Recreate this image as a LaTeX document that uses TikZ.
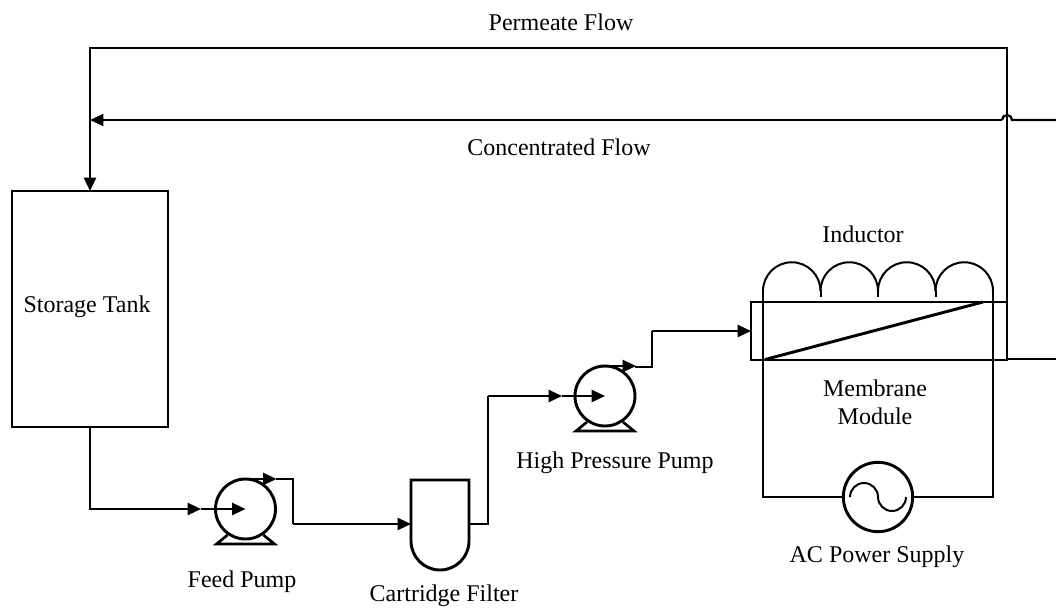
\documentclass[tikz,border=0pt]{standalone}
\usepackage{fontspec}
\setmainfont{Liberation Serif}
\usetikzlibrary{arrows.meta}
\tikzset{
    pipe/.style={line width=1.7pt},
    wire/.style={line width=1.5pt},
    tag/.style={font=\fontsize{18pt}{20pt}\selectfont, inner sep=0pt},
    pumpbody/.style={circle, draw, line width=2.2pt, minimum size=45pt, inner sep=0pt, outer sep=0pt},
    unit/.style={rectangle, draw, line width=2.2pt, inner sep=0pt, outer sep=0pt}
}
\begin{document}
\begin{tikzpicture}[>={Triangle[length=10pt,width=9pt]}, x=0.75pt, y=-0.75pt]
    \useasboundingbox (0,0) rectangle (1056,607);

    % Units
    \node[unit, minimum width=117pt, minimum height=177pt] (tank) at (90,309) {};
    \node[unit, minimum width=192pt, minimum height=43.5pt] (module) at (879,331) {};
    \node[pumpbody] (feedpump) at (245.5,509) {};
    \node[pumpbody] (hppump) at (605,396) {};
    \node[circle, draw, line width=2.2pt, minimum size=52pt, inner sep=0pt, outer sep=0pt] (ac) at (878,497) {};

    % Labels
    \node[tag] (permeatelabel) at (561,22.5) {Permeate Flow};
    \node[tag] (concentratedlabel) at (559,147.5) {Concentrated Flow};
    \node[tag] (inductorlabel) at (863,234) {Inductor};
    \node[tag] (tanklabel) at (87,306.5) {Storage Tank};
    \node[tag] (membranelabel) at (875,388) {Membrane};
    \node[tag] (modulelabel) at (875,416) {Module};
    \node[tag] (hplabel) at (615,463) {High Pressure Pump};
    \node[tag] (aclabel) at (877,557) {AC Power Supply};
    \node[tag] (feedlabel) at (242,582) {Feed Pump};
    \node[tag] (filterlabel) at (444,595.5) {Cartridge Filter};

    % Named points on the lines
    \coordinate (feedin) at (201,509);
    \coordinate (feedout) at (276,479);
    \coordinate (filterin) at (411,524);
    \coordinate (filterout) at (469,524);
    \coordinate (hpin) at (562,396);
    \coordinate (hpout) at (635,367);
    \coordinate (modulein) at (module.west);
    \coordinate (hopright) at (1012,120);
    \coordinate (hopleft) at (1002,120);
    \coordinate (concentratedin) at (1056,120);
    \coordinate (drain) at (1056,359);
    \coordinate (permeatetop) at (1007,48);
    \coordinate (returntop) at (90,48);
    \coordinate (returnside) at (90,120);

    % Pump details
    \foreach \p in {feedpump,hppump} {
        \draw[line width=2pt] ([shift={(-18,26)}]\p.center) -- ([shift={(-29,35)}]\p.center)
            -- ([shift={(29,35)}]\p.center) -- ([shift={(18,26)}]\p.center);
        \draw[pipe, ->] (\p.north) -- ++(31,0);
    }
    \draw[pipe, ->] (feedin) -- (feedpump.center);
    \draw[pipe, ->] (hpin) -- (hppump.center);

    % Cartridge filter
    \draw[line width=2.2pt] (filterin |- 0,480) coordinate (filtertl) -- (411,541)
        arc[start angle=180, end angle=0, radius=29] -- (469,480) -- cycle;

    % Process lines
    \draw[pipe, ->] (tank.south) |- (feedin);
    \draw[pipe] (feedout) -| (293,524) coordinate (feedelbow);
    \draw[pipe, ->] (feedelbow) -- (filterin);
    \draw[pipe] (filterout) -| (488,396) coordinate (filterelbow);
    \draw[pipe, ->] (filterelbow) -- (hpin);
    \draw[pipe] (hpout) -| (652,331) coordinate (hpelbow);
    \draw[pipe, ->] (hpelbow) -- (modulein);
    \draw[pipe] (module.south east |- drain) -- (drain);

    % Permeate and concentrated flow
    \draw[pipe, ->] (module.north east) -- (permeatetop) -- (returntop) -- (tank.north);
    \draw[pipe] (concentratedin) -- (hopright) arc[start angle=0, end angle=-180, radius=5] -- (hopleft);
    \draw[pipe, ->] (hopleft) -- (returnside);

    % Membrane
    \draw[line width=2.2pt] (765,359.5) coordinate (membranelow) -- (983,302) coordinate (membranehigh);

    % Inductor and supply
    \draw[wire] (ac.west) -| (763,291) coordinate (coilleft);
    \draw[wire] (ac.east) -| (993,291) coordinate (coilright);
    \foreach \xx in {763,820.5,878,935.5} {
        \draw[wire] (\xx,291) arc[start angle=180, end angle=360, radius=28.75];
    }
    \foreach \xx in {820.5,878,935.5} {
        \draw[wire] (\xx,291) -- (\xx,297);
    }
    \draw[wire] (850,497) arc[start angle=180, end angle=360, radius=14]
        arc[start angle=180, end angle=0, radius=14];
\end{tikzpicture}
\end{document}
